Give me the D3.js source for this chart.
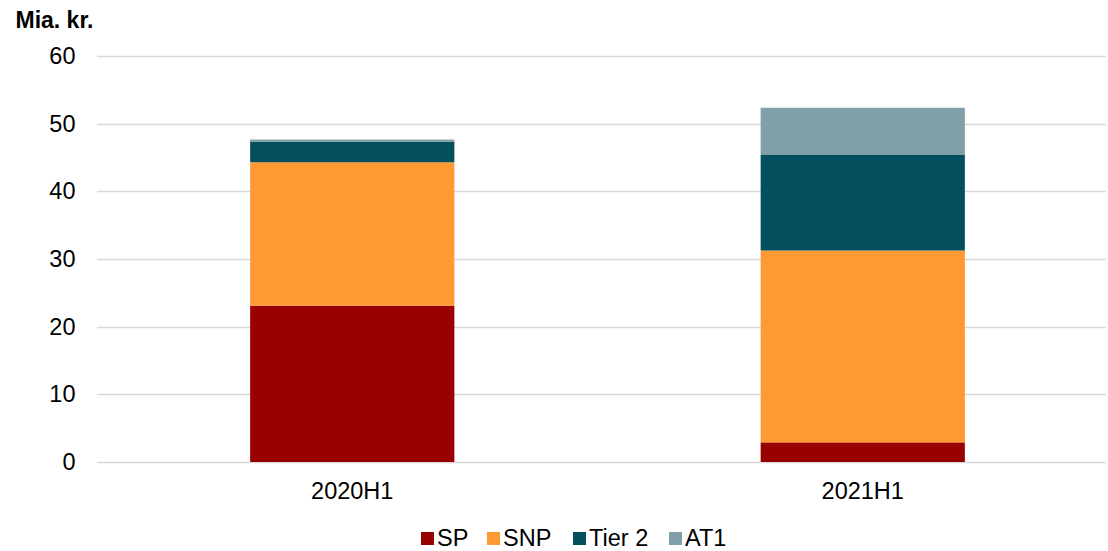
<!DOCTYPE html>
<html>
<head>
<meta charset="utf-8">
<script src="https://cdn.jsdelivr.net/npm/d3@7"></script>
<style>
  html, body { margin: 0; padding: 0; background: #fff; }
  svg { display: block; font-family: "Liberation Sans", Arial, sans-serif; }
</style>
</head>
<body>
<svg id="chart" width="1108" height="551"></svg>
<script>
// Issuance by instrument type, half-year periods (bn DKK)
const periods = ["2020H1", "2021H1"];
const seriesNames = ["SP", "SNP", "Tier 2", "AT1"];
const spValues = [23.1, 2.9];
const snpValues = [21.2, 28.35];
const tier2Values = [3.0, 14.2];
const at1Values = [0.35, 6.9];
const yTicks = [0, 10, 20, 30, 40, 50, 60];
const unitLabel = "Mia. kr.";

const colors = ["#990000", "#FF9933", "#034F5E", "#819FA8"];

const rows = periods.map((p, i) => ({
  period: p,
  "SP": spValues[i],
  "SNP": snpValues[i],
  "Tier 2": tier2Values[i],
  "AT1": at1Values[i]
}));

const svg = d3.select("#chart");
const plot = { left: 97, right: 1118, top: 56, bottom: 462 };
const labelSize = 23.5;

const x = d3.scaleBand().domain(periods).range([plot.left, plot.right]).padding(0);
const y = d3.scaleLinear().domain([0, 60]).range([plot.bottom, plot.top]);
const color = d3.scaleOrdinal().domain(seriesNames).range(colors);

// horizontal gridlines
svg.append("g")
  .selectAll("line")
  .data(yTicks)
  .join("line")
  .attr("x1", plot.left)
  .attr("x2", 1106)
  .attr("y1", d => Math.round(y(d)) + 0.5)
  .attr("y2", d => Math.round(y(d)) + 0.5)
  .attr("stroke", "#d9d9d9")
  .attr("stroke-width", 1.5);

// y-axis labels
const yAxis = d3.axisLeft(y).tickValues(yTicks).tickSize(0).tickPadding(0);
svg.append("g")
  .attr("transform", `translate(${75.5},0)`)
  .call(yAxis)
  .call(g => g.select(".domain").remove())
  .call(g => g.selectAll("text")
    .attr("font-family", "Liberation Sans, Arial, sans-serif")
    .attr("font-size", labelSize)
    .attr("fill", "#000"));

// stacked bars
const stack = d3.stack().keys(seriesNames);
const layers = stack(rows);
const barW = x.bandwidth() * 0.4;

svg.append("g")
  .selectAll("g")
  .data(layers)
  .join("g")
  .attr("fill", d => color(d.key))
  .selectAll("rect")
  .data(d => d)
  .join("rect")
  .attr("x", d => x(d.data.period) + (x.bandwidth() - barW) / 2)
  .attr("width", barW)
  .attr("y", d => y(d[1]))
  .attr("height", d => y(d[0]) - y(d[1]));

// x-axis labels
const xAxis = d3.axisBottom(x).tickSize(0).tickPadding(0);
svg.append("g")
  .attr("transform", `translate(0,${498.7})`)
  .call(xAxis)
  .call(g => g.select(".domain").remove())
  .call(g => g.selectAll("text")
    .attr("dy", 0)
    .attr("font-family", "Liberation Sans, Arial, sans-serif")
    .attr("font-size", labelSize)
    .attr("fill", "#000"));

// unit label
svg.append("text")
  .attr("x", 15.5)
  .attr("y", 28.3)
  .attr("font-size", 23)
  .attr("font-weight", "bold")
  .attr("fill", "#000")
  .text(unitLabel);

// legend
const legendX = [421, 487, 573, 669];
const legend = svg.append("g");
seriesNames.forEach((name, i) => {
  legend.append("rect")
    .attr("x", legendX[i])
    .attr("y", 532)
    .attr("width", 13)
    .attr("height", 13)
    .attr("fill", color(name));
  legend.append("text")
    .attr("x", legendX[i] + 16)
    .attr("y", 546)
    .attr("font-size", labelSize)
    .attr("fill", "#000")
    .text(name);
});
</script>
</body>
</html>
